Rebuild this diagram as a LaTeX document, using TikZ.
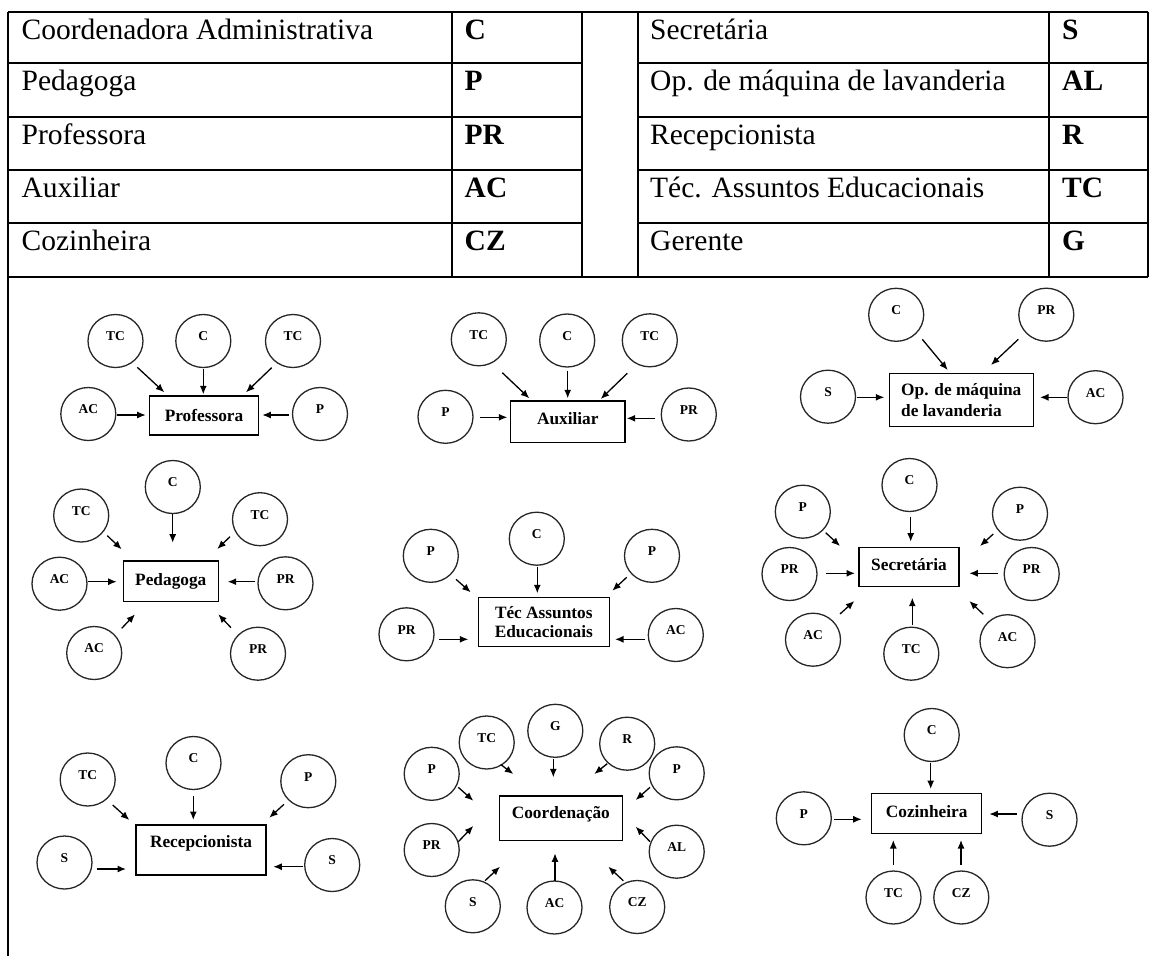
\documentclass[tikz,border=0pt]{standalone}
\usepackage{fontspec}
\setmainfont{Liberation Serif}
\usetikzlibrary{shapes.geometric,arrows.meta}

% raise a label by #1 pt without changing its box
\newcommand{\liftby}[2]{\raisebox{#1pt}[\height][\depth]{#2}}

\tikzset{
  grid/.style={line width=2pt},
  cell/.style={inner sep=0pt, anchor=base west, font=\fontsize{29.5}{34}\selectfont},
  code/.style={cell, font=\fontsize{29.5}{34}\selectfont\bfseries},
  agent/.style={ellipse, draw=black!85, line width=1.3pt, minimum width=55pt,
    minimum height=53pt, inner sep=0pt, font=\fontsize{13.5}{15}\selectfont\bfseries},
  role/.style={draw, line width=1.5pt, inner sep=0pt,
    font=\fontsize{17.3}{20}\selectfont\bfseries},
  flow/.style={line width=1.3pt, -{Latex[length=8.5pt,width=7pt]}},
}

% circle node holding an abbreviation
\newcommand{\agentnode}[3]{\node[agent] (#1) at #2 {\liftby{4.5}{#3}};}
% arrow from a circle to a role box, both ends offset from the node centres
\newcommand{\linkarrow}[4]{\draw[flow] ([shift={#2}]#1.center) -- ([shift={#4}]#3.center);}

\begin{document}
\begin{tikzpicture}[x=1pt,y=-1pt]
\useasboundingbox (0,0) rectangle (1151,956);

% ---------------- legend table ----------------
\draw[grid] (8.1,11.7) -- (1148,11.7);
\draw[grid] (8.1,276.7) -- (1148,276.7);
\foreach \yy in {63.3,117.3,170,222.7}{
  \draw[grid] (8.1,\yy) -- (581.9,\yy);
  \draw[grid] (637.5,\yy) -- (1148,\yy);
}
\draw[grid] (8.1,11.7) -- (8.1,956);
\foreach \xx in {452.1,581.9,637.5,1049.4,1148}{
  \draw[grid] (\xx,11.7) -- (\xx,276.7);
}

\node[cell] (l1) at (21.5,39.3) {Coordenadora Administrativa};
\node[cell] (l2) at (21.5,90.7) {Pedagoga};
\node[cell] (l3) at (21.5,144.3) {Professora};
\node[cell] (l4) at (21.5,197.3) {Auxiliar};
\node[cell] (l5) at (21.5,250.5) {Cozinheira};
\node[code] (k1) at (464.5,39.3) {C};
\node[code] (k2) at (464.5,90.7) {P};
\node[code] (k3) at (464.5,144.3) {PR};
\node[code] (k4) at (464.5,197.3) {AC};
\node[code] (k5) at (464.5,250.5) {CZ};
\node[cell] (r1) at (650,39.3) {Secretária};
\node[cell] (r2) at (650,90.7) {Op. de máquina de lavanderia};
\node[cell] (r3) at (650,144.3) {Recepcionista};
\node[cell] (r4) at (650,197.3) {Téc. Assuntos Educacionais};
\node[cell] (r5) at (650,250.5) {Gerente};
\node[code] (q1) at (1062,39.3) {S};
\node[code] (q2) at (1062,90.7) {AL};
\node[code] (q3) at (1062,144.3) {R};
\node[code] (q4) at (1062,197.3) {TC};
\node[code] (q5) at (1062,250.5) {G};

% ---------------- Professora ----------------
\node[role, minimum width=109pt, minimum height=39pt] (prof) at (204,415.3) {Professora};
\agentnode{pftc1}{(115.5,341)}{TC}
\agentnode{pfc}{(203.3,341)}{C}
\agentnode{pftc2}{(293,341)}{TC}
\agentnode{pfac}{(88.3,414)}{AC}
\agentnode{pfp}{(320,414)}{P}
\linkarrow{pftc1}{(21.8,26.3)}{prof}{(-39.7,-23)}
\linkarrow{pfc}{(0,28.3)}{prof}{(-0.7,-21)}
\linkarrow{pftc2}{(-21.3,26.7)}{prof}{(42,-23)}
\linkarrow{pfac}{(29,1)}{prof}{(-58.3,-0.3)}
\linkarrow{pfp}{(-31.3,1)}{prof}{(58.3,-0.3)}

% ---------------- Auxiliar ----------------
\node[role, minimum width=114.3pt, minimum height=41.7pt] (aux) at (567.8,421.8) {\liftby{3.5}{Auxiliar}};
\agentnode{auxtc1}{(478.8,339.3)}{TC}
\agentnode{auxc}{(567.2,340.5)}{C}
\agentnode{auxtc2}{(649.8,340.3)}{TC}
\agentnode{auxp}{(445.5,416.8)}{P}
\agentnode{auxpr}{(688.8,414.5)}{PR}
\linkarrow{auxtc1}{(23.5,33.4)}{aux}{(-38.5,-23.5)}
\linkarrow{auxc}{(0.5,30.2)}{aux}{(-0.1,-23.5)}
\linkarrow{auxtc2}{(-22.5,33)}{aux}{(32.9,-22.8)}
\linkarrow{auxp}{(34.5,0.5)}{aux}{(-60.5,-4.5)}
\linkarrow{auxpr}{(-33.8,3.8)}{aux}{(58.9,-3.5)}

% ---------------- Op. de maquina de lavanderia ----------------
\node[role, align=left, minimum width=144pt, minimum height=53.3pt,
  font=\fontsize{17.3}{21}\selectfont\bfseries] (opm) at (961.3,400) {Op. de máquina\\de lavanderia};
\agentnode{opc}{(896.2,314.8)}{C}
\agentnode{oppr}{(1046.3,314.7)}{PR}
\agentnode{ops}{(828,396.7)}{S}
\agentnode{opac}{(1095.5,397.2)}{AC}
\linkarrow{opc}{(26.1,24.5)}{opm}{(-13.6,-30)}
\linkarrow{oppr}{(-28,24.6)}{opm}{(29.7,-35)}
\linkarrow{ops}{(29.3,0.6)}{opm}{(-77,-2.7)}
\linkarrow{opac}{(-28.8,0.1)}{opm}{(78.7,-2.7)}

% ---------------- Pedagoga ----------------
\node[role, minimum width=95pt, minimum height=40.7pt] (ped) at (170.8,581.3) {Pedagoga};
\agentnode{pdc}{(172.8,487)}{C}
\agentnode{pdtc1}{(81.2,515.5)}{TC}
\agentnode{pdtc2}{(260,519.2)}{TC}
\agentnode{pdac1}{(59.5,583.7)}{AC}
\agentnode{pdpr1}{(285.5,583.3)}{PR}
\agentnode{pdac2}{(94.2,653)}{AC}
\agentnode{pdpr2}{(258,653.7)}{PR}
\linkarrow{pdc}{(-0.1,27)}{ped}{(1.9,-38.6)}
\linkarrow{pdtc1}{(26.1,20.2)}{ped}{(-49.1,-32)}
\linkarrow{pdtc2}{(-30,17.5)}{ped}{(46.5,-32.3)}
\linkarrow{pdac1}{(28.8,-2)}{ped}{(-54.1,0.4)}
\linkarrow{pdpr1}{(-30.5,-1.6)}{ped}{(56.9,0.4)}
\linkarrow{pdac2}{(27.5,-24.7)}{ped}{(-35.8,33)}
\linkarrow{pdpr2}{(-27,-26)}{ped}{(47.5,33)}

% ---------------- Tec Assuntos Educacionais ----------------
\node[role, align=center, minimum width=131pt, minimum height=49pt,
  font=\fontsize{17.3}{18.4}\selectfont\bfseries] (tea) at (543.8,622.2) {Téc Assuntos\\Educacionais};
\agentnode{tec}{(536.8,538.7)}{C}
\agentnode{tep1}{(430.8,555.8)}{P}
\agentnode{tep2}{(652,555.8)}{P}
\agentnode{tepr}{(406.5,634.3)}{PR}
\agentnode{teac}{(675.8,635)}{AC}
\linkarrow{tec}{(0.5,28.6)}{tea}{(-6.5,-28.9)}
\linkarrow{tep1}{(25.2,23.5)}{tea}{(-73.1,-29.9)}
\linkarrow{tep2}{(-25.3,21.5)}{tea}{(68.5,-31.5)}
\linkarrow{tepr}{(32.8,5)}{tea}{(-75.5,17.1)}
\linkarrow{teac}{(-30.8,4.3)}{tea}{(71.2,17.1)}

% ---------------- Secretaria ----------------
\node[role, minimum width=100pt, minimum height=39.3pt] (sec) at (909,567) {\liftby{2}{Secretária}};
\agentnode{scc}{(909.5,485)}{C}
\agentnode{scp1}{(802.8,511.7)}{P}
\agentnode{scp2}{(1020,513.7)}{P}
\agentnode{scpr1}{(789.5,574)}{PR}
\agentnode{scpr2}{(1031.7,574)}{PR}
\agentnode{scac1}{(813,639.7)}{AC}
\agentnode{sctc}{(911.3,653.7)}{TC}
\agentnode{scac2}{(1007.5,641.2)}{AC}
\linkarrow{scc}{(1.2,31.7)}{sec}{(1.7,-25.3)}
\linkarrow{scp1}{(22.9,21)}{sec}{(-69,-21)}
\linkarrow{scp2}{(-26.7,20.3)}{sec}{(71,-21)}
\linkarrow{scpr1}{(36.2,-0.7)}{sec}{(-54,6.3)}
\linkarrow{scpr2}{(-33.4,-0.7)}{sec}{(60.3,6.3)}
\linkarrow{scac1}{(27,-25.7)}{sec}{(-54.7,34)}
\linkarrow{sctc}{(1,-28.7)}{sec}{(3.3,30.7)}
\linkarrow{scac2}{(-24.2,-26.9)}{sec}{(60.3,34)}

% ---------------- Recepcionista ----------------
\node[role, minimum width=130pt, minimum height=50pt] (rec) at (201,850) {\liftby{6.7}{Recepcionista}};
\agentnode{rcc}{(193.5,763)}{C}
\agentnode{rctc}{(87.7,779.5)}{TC}
\agentnode{rcp}{(308.3,781.2)}{P}
\agentnode{rcs1}{(64.5,862.5)}{S}
\agentnode{rcs2}{(332.2,865)}{S}
\linkarrow{rcc}{(-0.2,33)}{rec}{(-7.7,-30)}
\linkarrow{rctc}{(25,25.5)}{rec}{(-71.7,-30)}
\linkarrow{rcp}{(-24.3,23.1)}{rec}{(68.3,-32.3)}
\linkarrow{rcs1}{(32.2,6.5)}{rec}{(-75,19)}
\linkarrow{rcs2}{(-28.9,1.7)}{rec}{(72.3,16.7)}

% ---------------- Coordenacao ----------------
\node[role, minimum width=123pt, minimum height=44.7pt] (coo) at (560.8,818.3) {\liftby{4}{Coordenação}};
\agentnode{cotc}{(486.7,742.5)}{TC}
\agentnode{cog}{(555.3,730.8)}{G}
\agentnode{cor}{(627.2,743.7)}{R}
\agentnode{cop1}{(431.7,773.8)}{P}
\agentnode{cop2}{(676.7,773.3)}{P}
\agentnode{copr}{(431.7,850)}{PR}
\agentnode{coal}{(676.7,851.7)}{AL}
\agentnode{cos}{(472.8,906.3)}{S}
\agentnode{coac}{(554.5,907.5)}{AC}
\agentnode{cocz}{(637.2,907)}{CZ}
\linkarrow{cotc}{(14,22)}{coo}{(-47.5,-44.3)}
\linkarrow{cog}{(-2,28.5)}{coo}{(-7.5,-41)}
\linkarrow{cor}{(-20,20)}{coo}{(33.5,-44.3)}
\linkarrow{cop1}{(26.6,13.5)}{coo}{(-87.5,-17.6)}
\linkarrow{cop2}{(-26.7,14)}{coo}{(74.9,-18.3)}
\linkarrow{copr}{(26.6,-8.3)}{coo}{(-87.5,7.7)}
\linkarrow{coal}{(-26.7,-10)}{coo}{(74.9,8.4)}
\linkarrow{cos}{(12.2,-25.6)}{coo}{(-60.8,48.4)}
\linkarrow{coac}{(0.5,-26.8)}{coo}{(-5.8,35)}
\linkarrow{cocz}{(-13.9,-26.3)}{coo}{(47.5,48.4)}

% ---------------- Cozinheira ----------------
\node[role, minimum width=110pt, minimum height=40pt] (coz) at (926.7,813.3) {\liftby{2}{Cozinheira}};
\agentnode{czc}{(931.7,735)}{C}
\agentnode{czp}{(803.8,818.3)}{P}
\agentnode{czs}{(1049.5,819.7)}{S}
\agentnode{cztc}{(893.5,897.5)}{TC}
\agentnode{czcz}{(961.3,897.5)}{CZ}
\linkarrow{czc}{(-1,27.7)}{coz}{(4,-24.3)}
\linkarrow{czp}{(30.2,1)}{coz}{(-65,6)}
\linkarrow{czs}{(-32.8,-5.7)}{coz}{(62.6,0.7)}
\linkarrow{cztc}{(-0.2,-32.5)}{coz}{(-33.4,26.7)}
\linkarrow{czcz}{(-0.3,-32.5)}{coz}{(34.3,26.7)}
\end{tikzpicture}
\end{document}
